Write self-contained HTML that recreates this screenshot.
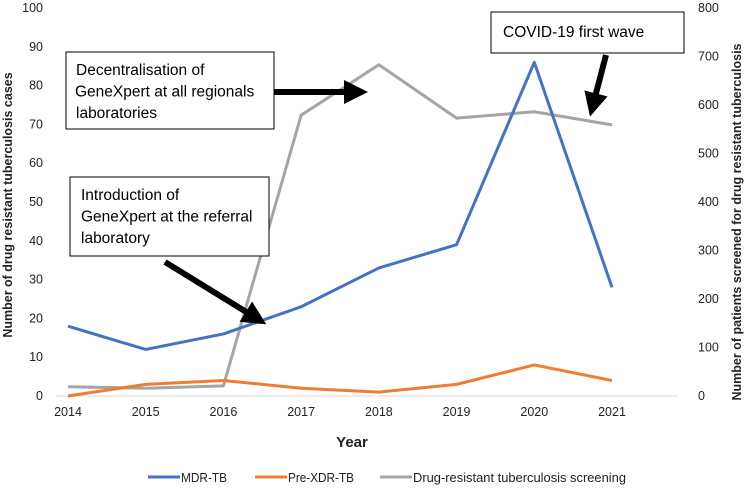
<!DOCTYPE html>
<html><head><meta charset="utf-8"><style>
body{margin:0;background:#fff;width:745px;height:487px;overflow:hidden;font-family:"Liberation Sans",sans-serif}
</style></head><body>
<svg width="745" height="487" xmlns="http://www.w3.org/2000/svg" id="chart">
<defs><marker id="ah" markerWidth="4" markerHeight="4" refX="2" refY="2" orient="auto" markerUnits="strokeWidth"><path d="M0,0 L4,2 L0,4 z" fill="#000"/></marker></defs>
<g id="axes" font-size="12.5" fill="#222"></g>
<g id="series"></g>
<g id="annot"></g>
</svg>
<script>
const years=["2014","2015","2016","2017","2018","2019","2020","2021"];
const mdr=[18,12,16,23,33,39,86,28];
const preXdr=[0,3,4,2,1,3,8,4];
const screening=[19,16,21,579,683,573,586,559];
const leftTicks=[0,10,20,30,40,50,60,70,80,90,100];
const rightTicks=[0,100,200,300,400,500,600,700,800];
const NS="http://www.w3.org/2000/svg";
const ax=document.getElementById('axes'),se=document.getElementById('series'),an=document.getElementById('annot');
const x0=68,x1=612,yB=396,yT=8;
const xS=i=>x0+(x1-x0)*i/(years.length-1);
const yL=v=>yB-(yB-yT)*v/100;
const yR=v=>yB-(yB-yT)*v/800;
function mk(t,a,p){const e=document.createElementNS(NS,t);for(const k in a)e.setAttribute(k,a[k]);p.appendChild(e);return e;}
let bl=mk('line',{x1:56,x2:678,y1:yB,y2:yB,stroke:'#d9d9d9','stroke-width':1},ax);


leftTicks.forEach(v=>{const t=mk('text',{x:43,y:yL(v)+4,'text-anchor':'end'},ax);t.textContent=v;

});
rightTicks.forEach(v=>{const t=mk('text',{x:698,y:yR(v)+4,'text-anchor':'start'},ax);t.textContent=v;

});
years.forEach((y,i)=>{const t=mk('text',{x:xS(i),y:416,'text-anchor':'middle'},ax);t.textContent=y;

});
let t;
t=mk('text',{x:352,y:447,'text-anchor':'middle','font-weight':'bold','font-size':'15'},ax);t.textContent='Year';


t=mk('text',{transform:'translate(12,205) rotate(-90)','text-anchor':'middle','font-weight':'bold','font-size':'12.5'},ax);t.textContent='Number of  drug resistant tuberculosis cases';


t=mk('text',{transform:'translate(741,222) rotate(-90)','text-anchor':'middle','font-weight':'bold','font-size':'12.5'},ax);t.textContent='Number of patients screened for drug resistant tuberculosis';


function line(vals,f,col,name){const p=mk('polyline',{points:vals.map((v,i)=>xS(i)+','+f(v)).join(' '),fill:'none',stroke:col,'stroke-width':3,'stroke-linejoin':'round'},se);

}
line(screening,yR,'#a5a5a5','screening-line');
line(preXdr,yL,'#ed7d31','pre-xdr-tb-line');
line(mdr,yL,'#4472c4','mdr-tb-line');
const leg=[['MDR-TB','#4472c4',148,46],['Pre-XDR-TB','#ed7d31',255,66],['Drug-resistant tuberculosis screening','#a5a5a5',380,213]];
leg.forEach(l=>{mk('line',{x1:l[2],x2:l[2]+32,y1:477,y2:477,stroke:l[1],'stroke-width':3},ax);
const tt=mk('text',{x:l[2]+33,y:482,'font-size':'12.5',textLength:l[3],lengthAdjust:'spacingAndGlyphs'},ax);tt.textContent=l[0];

});
function box(x,y,w,h,lines,name,ty){const g=mk('g',{},an);


mk('rect',{x:x,y:y,width:w,height:h,fill:'#fff',stroke:'#000','stroke-width':1},g);
lines.forEach((s,i)=>{const tx=mk('text',{x:x+s[1],y:y+ty+i*21.5,'font-size':'15.5',fill:'#000'},g);tx.textContent=s[0];});}
function arrow(a,b,c,d,name){const l=mk('line',{x1:a,y1:b,x2:c,y2:d,stroke:'#000','stroke-width':6,'marker-end':'url(#ah)'},an);

}
arrow(274,92,356,92,'arrow-decentralisation');
arrow(165,262,256,318,'arrow-introduction');
arrow(606,55,593,105,'arrow-covid');
box(66,52,208,77,[['Decentralisation of',10],['GeneXpert at all regionals',9],[' laboratories',10]],'decentralisation-annotation',23);
box(70,177,199,79,[['Introduction of',11],['GeneXpert at the referral',11],['laboratory',11]],'introduction-annotation',23);
box(491,12,193,41,[['COVID-19 first wave',12]],'covid-annotation',25);
</script>
</body></html>
